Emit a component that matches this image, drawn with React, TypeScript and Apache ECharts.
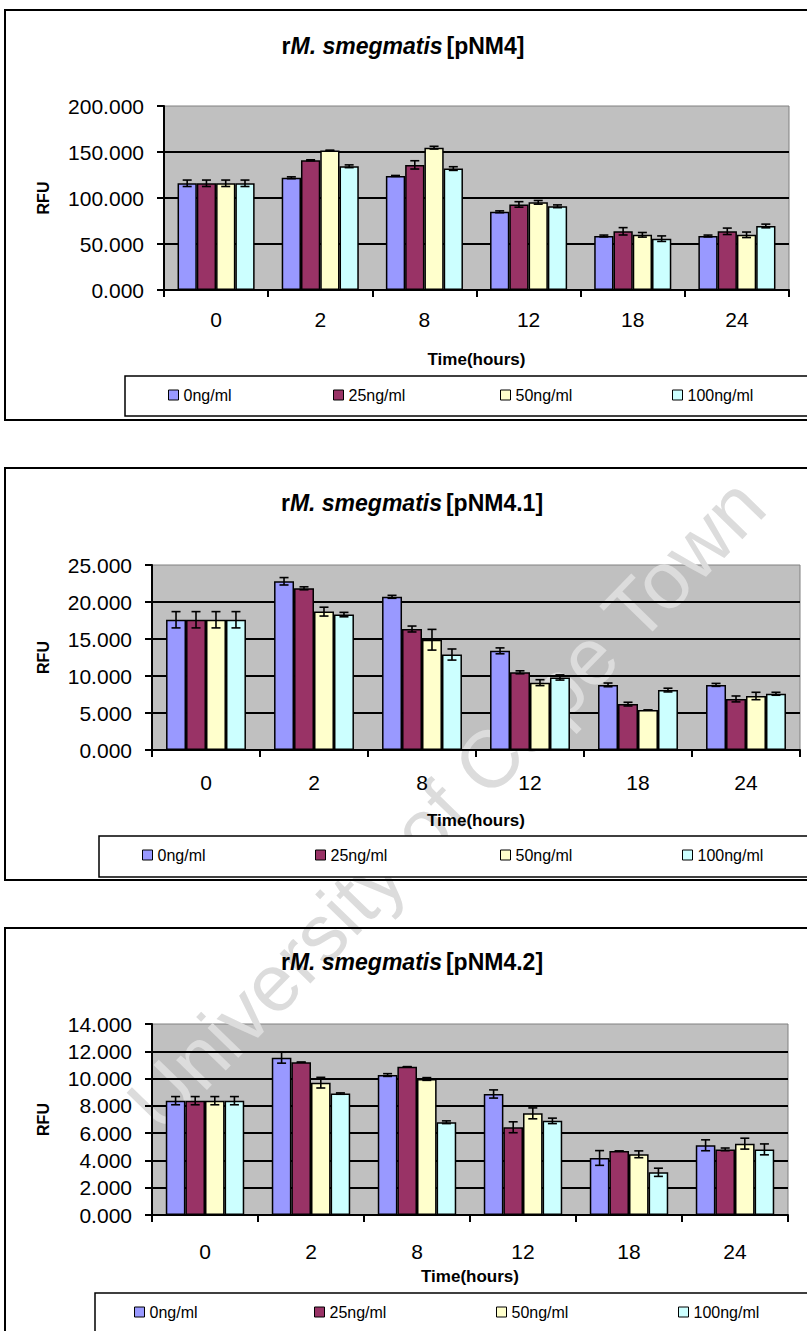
import React, { useEffect, useRef } from 'react';
import * as echarts from 'echarts';

// ---------- data ----------
const categories = ['0', '2', '8', '12', '18', '24'];
const doseNames = ['0ng/ml', '25ng/ml', '50ng/ml', '100ng/ml'];
const plasmids = ['[pNM4]', '[pNM4.1]', '[pNM4.2]'];
const yMax = [200, 25, 14];
const yInterval = [50, 5, 2];

// rM. smegmatis [pNM4]
const pnm4_0 = [116, 122, 124, 85, 58.7, 58.7];
const pnm4_25 = [116, 141, 136, 93, 63.8, 63.8];
const pnm4_50 = [116, 151.5, 154.7, 95.3, 60, 60];
const pnm4_100 = [116, 134.5, 132, 91, 55.8, 69.6];
const pnm4_0_err = [3.5, 1, 0.5, 1, 1, 1];
const pnm4_25_err = [3.5, 0.5, 4.5, 3, 4, 3.5];
const pnm4_50_err = [3.5, 0.5, 1.5, 2, 2.5, 3];
const pnm4_100_err = [3.5, 1.5, 2, 1.5, 3, 2];

// rM. smegmatis [pNM4.1]
const pnm41_0 = [17.6, 22.8, 20.7, 13.4, 8.8, 8.8];
const pnm41_25 = [17.6, 21.85, 16.35, 10.5, 6.2, 6.9];
const pnm41_50 = [17.6, 18.7, 14.9, 9.1, 5.4, 7.3];
const pnm41_100 = [17.6, 18.3, 12.9, 9.8, 8.1, 7.6];
const pnm41_0_err = [1.1, 0.5, 0.2, 0.4, 0.25, 0.2];
const pnm41_25_err = [1.1, 0.2, 0.4, 0.2, 0.25, 0.4];
const pnm41_50_err = [1.1, 0.6, 1.4, 0.4, 0, 0.5];
const pnm41_100_err = [1.1, 0.3, 0.75, 0.35, 0.25, 0.2];

// rM. smegmatis [pNM4.2]
const pnm42_0 = [8.38, 11.53, 10.26, 8.87, 4.18, 5.11];
const pnm42_25 = [8.38, 11.2, 10.87, 6.43, 4.69, 4.81];
const pnm42_50 = [8.38, 9.7, 9.97, 7.45, 4.45, 5.23];
const pnm42_100 = [8.38, 8.9, 6.8, 6.9, 3.13, 4.81];
const pnm42_0_err = [0.3, 0.4, 0.1, 0.3, 0.54, 0.4];
const pnm42_25_err = [0.3, 0, 0, 0.4, 0, 0.1];
const pnm42_50_err = [0.3, 0.39, 0.1, 0.4, 0.25, 0.4];
const pnm42_100_err = [0.3, 0.05, 0.1, 0.2, 0.3, 0.4];

const chartValues = [
  [pnm4_0, pnm4_25, pnm4_50, pnm4_100],
  [pnm41_0, pnm41_25, pnm41_50, pnm41_100],
  [pnm42_0, pnm42_25, pnm42_50, pnm42_100],
];
const chartErrors = [
  [pnm4_0_err, pnm4_25_err, pnm4_50_err, pnm4_100_err],
  [pnm41_0_err, pnm41_25_err, pnm41_50_err, pnm41_100_err],
  [pnm42_0_err, pnm42_25_err, pnm42_50_err, pnm42_100_err],
];

// ---------- styles / layout ----------
const FONT = '"Liberation Sans", Arial, sans-serif';
const doseColors = ['#9999FF', '#993366', '#FFFFCC', '#CCFFFF'];
const GAP = 0.26;

const layouts = [
  {
    grid: { left: 164, top: 106, width: 625, height: 184 },
    titleX: 403, titleTop: 34, xLabelMargin: 19, xNameGap: 61, yNameGap: 113,
    legendBox: { x: 125, y: 376, width: 700, height: 40 }, legendY: 396,
    legendXs: [168, 333, 500, 672],
    frame: { x: 5, y: 10, width: 815, height: 410 },
  },
  {
    grid: { left: 152, top: 565, width: 648, height: 185 },
    titleX: 412, titleTop: 491, xLabelMargin: 22, xNameGap: 62, yNameGap: 101,
    legendBox: { x: 99, y: 836, width: 720, height: 41 }, legendY: 856,
    legendXs: [142, 315, 500, 682],
    frame: { x: 5, y: 468, width: 815, height: 412 },
  },
  {
    grid: { left: 152, top: 1024, width: 636, height: 191 },
    titleX: 412, titleTop: 950, xLabelMargin: 26, xNameGap: 53, yNameGap: 101,
    legendBox: { x: 95, y: 1293, width: 720, height: 50 }, legendY: 1313,
    legendXs: [134, 314, 496, 678],
    frame: { x: 5, y: 928, width: 815, height: 420 },
  },
];

function buildOption() {
  const grid: any[] = [];
  const xAxis: any[] = [];
  const yAxis: any[] = [];
  const series: any[] = [];
  const title: any[] = [];
  const legend: any[] = [];
  const graphic: any[] = [];

  layouts.forEach((L, c) => {
    grid.push({
      ...L.grid,
      show: true,
      backgroundColor: '#C0C0C0',
      borderColor: '#808080',
      borderWidth: 1,
      z: 0,
    });
    xAxis.push({
      type: 'category',
      gridIndex: c,
      data: categories,
      z: 2,
      name: 'Time(hours)',
      nameLocation: 'middle',
      nameGap: L.xNameGap,
      nameTextStyle: { fontFamily: FONT, fontSize: 17, fontWeight: 'bold', color: '#000' },
      axisLine: { show: true, lineStyle: { color: '#000', width: 2 } },
      axisTick: { show: true, length: 7, interval: 0, lineStyle: { color: '#000', width: 2 } },
      axisLabel: { fontFamily: FONT, fontSize: 21, color: '#000', margin: L.xLabelMargin },
      splitLine: { show: false },
    });
    yAxis.push({
      type: 'value',
      gridIndex: c,
      z: 2,
      min: 0,
      max: yMax[c],
      interval: yInterval[c],
      name: 'RFU',
      nameLocation: 'middle',
      nameGap: L.yNameGap,
      nameRotate: 90,
      nameTextStyle: { fontFamily: FONT, fontSize: 16, fontWeight: 'bold', color: '#000' },
      axisLine: { show: true, lineStyle: { color: '#000', width: 2 } },
      axisTick: { show: true, length: 7, lineStyle: { color: '#000', width: 2 } },
      axisLabel: {
        fontFamily: FONT, fontSize: 21, color: '#000', margin: 20,
        formatter: (v: number) => v.toFixed(3),
      },
      splitLine: { show: true, showMaxLine: false, lineStyle: { color: '#000', width: 2 } },
    });
    title.push({
      text: `{n|r}{i|M. smegmatis}{n|${plasmids[c]}}`,
      left: L.titleX,
      top: L.titleTop,
      textAlign: 'center',
      padding: 0,
      textStyle: {
        fontFamily: FONT, fontSize: 23, fontWeight: 'bold', color: '#000',
        rich: {
          n: { fontFamily: FONT, fontSize: 23, fontWeight: 'bold', color: '#000' },
          i: { fontFamily: FONT, fontSize: 23, fontWeight: 'bold', fontStyle: 'italic', color: '#000', padding: [0, 4, 0, 0] },
        },
      },
    });

    doseNames.forEach((name, s) => {
      series.push({
        type: 'bar',
        name,
        xAxisIndex: c,
        yAxisIndex: c,
        data: chartValues[c][s],
        barGap: 0,
        barCategoryGap: GAP * 100 + '%',
        itemStyle: { color: doseColors[s], borderColor: '#000', borderWidth: 1.5 },
        z: 3,
      });
      legend.push({
        data: [name],
        left: L.legendXs[s],
        top: L.legendY - 9,
        padding: 0,
        itemWidth: 10,
        itemHeight: 10,
        itemGap: 0,
        icon: 'rect',
        selectedMode: false,
        itemStyle: { borderColor: '#000', borderWidth: 1 },
        textStyle: { fontFamily: FONT, fontSize: 16, color: '#000' },
        z: 6,
      });
    });

    const errData: number[][] = [];
    chartValues[c].forEach((vals, s) => {
      vals.forEach((v, k) => errData.push([k, v, chartErrors[c][s][k], s]));
    });
    series.push({
      type: 'custom',
      name: 'error' + c,
      xAxisIndex: c,
      yAxisIndex: c,
      data: errData,
      clip: false,
      z: 4,
      renderItem: (params: any, api: any) => {
        const cat = api.value(0);
        const val = api.value(1);
        const err = api.value(2);
        const s = api.value(3);
        const band = api.size([1, 0])[0];
        const bw = (band * (1 - GAP)) / 4;
        const p = api.coord([cat, val]);
        const x = p[0] + (s - 1.5) * bw;
        const yt = api.coord([cat, val + err])[1];
        const yb = api.coord([cat, val - err])[1];
        const cap = 4.5;
        const st = { stroke: '#000', lineWidth: 1.6 };
        return {
          type: 'group',
          children: [
            { type: 'line', shape: { x1: x, y1: yt, x2: x, y2: yb }, style: st },
            { type: 'line', shape: { x1: x - cap, y1: yt, x2: x + cap, y2: yt }, style: st },
            { type: 'line', shape: { x1: x - cap, y1: yb, x2: x + cap, y2: yb }, style: st },
          ],
        };
      },
    });

    graphic.push({
      type: 'rect',
      shape: { ...L.legendBox },
      style: { fill: '#fff', stroke: '#000', lineWidth: 1.5 },
      z: 5,
    });
    graphic.push({
      type: 'rect',
      shape: { ...L.frame },
      style: { fill: 'none', stroke: '#000', lineWidth: 2 },
      z: 10,
    });
  });

  graphic.push({
    type: 'text',
    x: 446,
    y: 804,
    rotation: 0.8,
    z: 1,
    silent: true,
    style: {
      text: 'University of Cape Town',
      fontFamily: FONT,
      fontSize: 81,
      fill: '#DCDCDC',
      align: 'center',
      verticalAlign: 'middle',
    },
  });

  return {
    animation: false,
    backgroundColor: '#fff',
    title,
    legend,
    grid,
    xAxis,
    yAxis,
    series,
    graphic,
  };
}

export default function App() {
  const ref = useRef<HTMLDivElement>(null);
  useEffect(() => {
    document.body.style.margin = '0';
    const chart = echarts.init(ref.current!, null, { renderer: 'svg' });
    chart.setOption(buildOption() as any);
    return () => chart.dispose();
  }, []);
  return <div ref={ref} style={{ width: 807, height: 1331 }} />;
}
